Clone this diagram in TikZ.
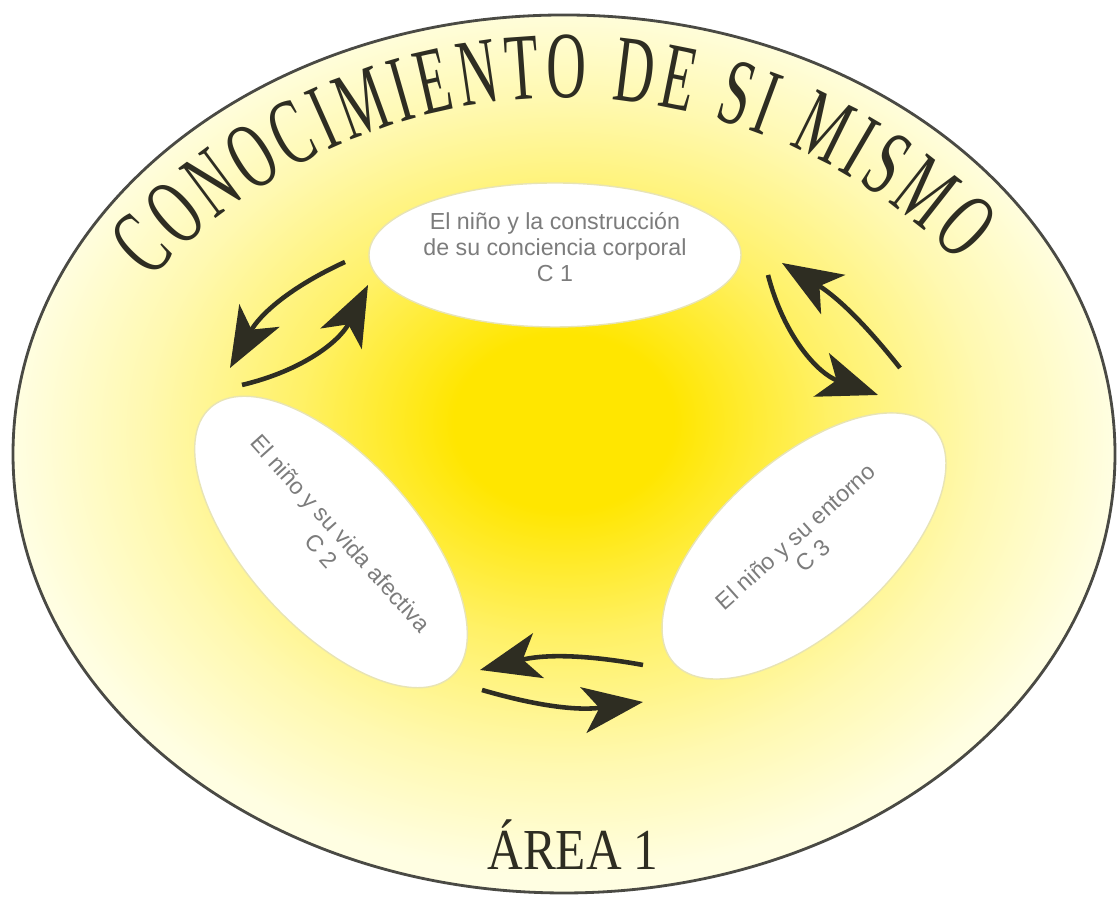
\documentclass[tikz,border=0pt]{standalone}
\usepackage{fontspec}
\setmainfont{Liberation Serif}
\setsansfont{Liberation Sans}
\newfontfamily\titlefont[FakeStretch=0.58]{Liberation Serif}
\newfontfamily\areafont[FakeStretch=0.85]{Liberation Serif}
\newcommand\titlesize{\titlefont\fontsize{27}{30}\selectfont}
\usepackage{tikz}
\usetikzlibrary{arrows.meta,positioning,shapes.geometric,decorations.text}
\definecolor{sunyellow}{HTML}{FFE600}
\definecolor{paleyellow}{HTML}{FFFEE2}
\colorlet{midyellow}{sunyellow!55!paleyellow}
\colorlet{softyellow}{sunyellow!22!paleyellow}
\definecolor{ringgray}{HTML}{4A4A44}
\definecolor{inkdark}{HTML}{2E2D22}
\definecolor{labelgray}{HTML}{7C7C7C}
\definecolor{bubbleedge}{HTML}{E8E4B4}
\pgfdeclareradialshading{sunglow}{\pgfpoint{0bp}{2bp}}{%
  color(0bp)=(sunyellow); color(5bp)=(sunyellow);
  color(12bp)=(midyellow); color(19bp)=(softyellow);
  color(25bp)=(paleyellow); color(50bp)=(paleyellow)}
\tikzset{
  bubble/.style={ellipse,draw=bubbleedge,line width=.4pt,fill=white,text=labelgray,align=center,inner sep=0pt,
    font=\sffamily\fontsize{6.6}{7.4}\selectfont},
  flow/.style={-{Stealth[length=6mm,width=4.6mm,inset=1.6mm]},line width=1.3pt,draw=inkdark},
}

\begin{document}
\begin{tikzpicture}
    \useasboundingbox (0,0) rectangle (11.17,8.99);
    \node[ellipse,minimum width=11.02cm,minimum height=8.78cm,draw=ringgray,line width=.8pt,shading=sunglow] (area) at (5.64,4.45) {};
    % title on an arc
    \path[decorate,decoration={text effects along path,text={CONOCIMIENTO DE SI MISMO},text align=left,
        text effects/.cd,text along path,
        character widths={font=\titlesize,inner xsep=.8pt},
        characters={text=inkdark,font=\titlesize}}]
        ([shift={(138:5.57)}]5.63,2.44) arc[start angle=138,end angle=30,radius=5.57];
    \node[bubble,minimum width=3.7cm,minimum height=1.44cm] (c1) at (5.55,6.44) {El niño y la construcción\\de su conciencia corporal\\C 1\rule[-.17cm]{0pt}{0pt}};
    \node[bubble,rotate=-48,minimum width=3.5cm,minimum height=1.7cm] (c2) at (3.31,3.57) {El niño y su vida afectiva\\C 2};
    \node[bubble,rotate=42,minimum width=3.5cm,minimum height=1.7cm] (c3) at (8.04,3.53) {El niño y su entorno\\C 3};
    \node[anchor=base,text=inkdark,font=\areafont\fontsize{16.5}{18}\selectfont] (lbl) at (5.73,0.29) {ÁREA 1};
    % arrow ends
    \coordinate (a12) at (3.45,6.37); \coordinate (a21) at (2.30,5.31);
    \coordinate (b21) at (2.42,5.14); \coordinate (b12) at (3.68,6.14);
    \coordinate (a31) at (9.00,5.31); \coordinate (a13) at (7.82,6.36);
    \coordinate (b13) at (7.68,6.24); \coordinate (b31) at (8.78,5.04);
    \coordinate (a32) at (6.43,2.34); \coordinate (a23) at (4.80,2.29);
    \coordinate (b23) at (4.82,2.09); \coordinate (b32) at (6.43,1.97);
    \draw[flow] (a12) to[bend right=18] (a21); \draw[flow] (b21) to[bend right=25] (b12);
    \draw[flow] (a31) to[bend right=10] (a13); \draw[flow] (b13) to[bend right=28] (b31);
    \draw[flow] (a32) to[bend right=12] (a23); \draw[flow] (b23) to[bend right=12] (b32);
\end{tikzpicture}
\end{document}
